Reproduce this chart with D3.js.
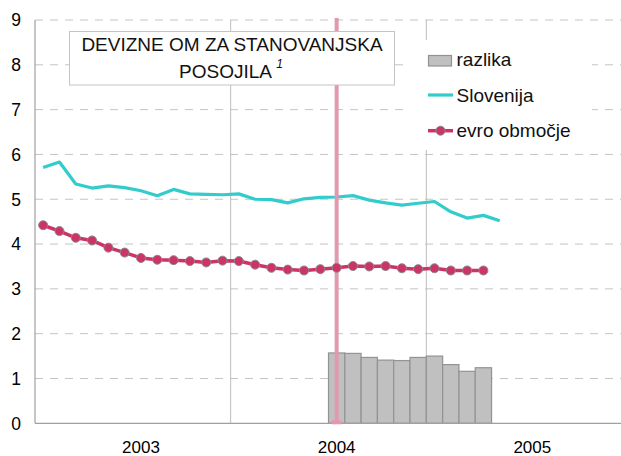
<!DOCTYPE html>
<html>
<head>
<meta charset="utf-8">
<script src="https://cdn.jsdelivr.net/npm/d3@7"></script>
<style>
  html, body { margin: 0; padding: 0; background: #fff; }
  svg { display: block; font-family: "Liberation Sans", Arial, sans-serif; }
</style>
</head>
<body>
<svg id="chart" width="621" height="456"></svg>
<script>
// months Jan 2003 .. Dec 2005
const years = ["2003", "2004", "2005"];
const monthNums = ["01","02","03","04","05","06","07","08","09","10","11","12"];
const months = years.flatMap(y => monthNums.map(m => `${y}-${m}`));

const yearLabels = ["2003", "2004", "2005"];
const yTicks = [0, 1, 2, 3, 4, 5, 6, 7, 8, 9];

// Slovenija, Jan 2003 .. May 2005
const slovenija = [5.71, 5.83, 5.34, 5.25, 5.30, 5.26, 5.19, 5.08, 5.22, 5.12,
                   5.11, 5.10, 5.12, 5.00, 4.99, 4.92, 5.01, 5.04, 5.05, 5.08,
                   4.98, 4.92, 4.87, 4.91, 4.95, 4.72, 4.58, 4.64, 4.52];
// evro obmocje, Jan 2003 .. Apr 2005
const evro = [4.42, 4.29, 4.14, 4.08, 3.92, 3.81, 3.69, 3.65, 3.64, 3.62,
              3.59, 3.63, 3.62, 3.54, 3.47, 3.43, 3.41, 3.44, 3.47, 3.51,
              3.50, 3.51, 3.46, 3.44, 3.46, 3.41, 3.41, 3.41];
// razlika, Jul 2004 .. Apr 2005
const razlikaStart = "2004-07";
const razlika = [1.57, 1.56, 1.47, 1.41, 1.40, 1.47, 1.50, 1.31, 1.16, 1.24];

const markerMonth = "2004-07";

const svg = d3.select("#chart");
const plotL = 35, plotR = 622, plotT = 20, plotB = 423.3;

const x = d3.scaleBand().domain(months).range([plotL, plotR]).padding(0);
const y = d3.scaleLinear().domain([0, 9]).range([plotB, plotT]);
const bw = x.bandwidth();
const cx = m => x(m) + bw / 2;

// horizontal dashed grid
svg.append("g")
    .selectAll("line")
    .data(yTicks.filter(d => d > 0))
    .join("line")
    .attr("x1", plotL).attr("x2", plotR)
    .attr("y1", d => y(d)).attr("y2", d => y(d))
    .attr("stroke", "#c4c4c4")
    .attr("stroke-width", 1)
    .attr("stroke-dasharray", "8,7");

// vertical year separators
svg.append("g")
    .selectAll("line")
    .data(["2004-01", "2005-01"])
    .join("line")
    .attr("x1", d => x(d)).attr("x2", d => x(d))
    .attr("y1", y(9)).attr("y2", y(0))
    .attr("stroke", "#bdbdbd")
    .attr("stroke-width", 1);

// legend background hides the grid
svg.append("rect")
    .attr("x", 407).attr("y", 40)
    .attr("width", 185).attr("height", 110)
    .attr("fill", "#fff");

// bars
const startIdx = months.indexOf(razlikaStart);
const barData = razlika.map((v, i) => ({ m: months[startIdx + i], v }));
svg.append("g")
    .selectAll("rect")
    .data(barData)
    .join("rect")
    .attr("x", d => x(d.m))
    .attr("y", d => y(d.v))
    .attr("width", bw)
    .attr("height", d => y(0) - y(d.v))
    .attr("fill", "#c0c0c0")
    .attr("stroke", "#939393")
    .attr("stroke-width", 1.2);

// axes lines
svg.append("line")
    .attr("x1", plotL).attr("x2", plotR)
    .attr("y1", y(0)).attr("y2", y(0))
    .attr("stroke", "#a0a0a0").attr("stroke-width", 1.2);
svg.append("line")
    .attr("x1", plotL).attr("x2", plotL)
    .attr("y1", y(9)).attr("y2", y(0))
    .attr("stroke", "#a0a0a0").attr("stroke-width", 1.2);

// Slovenija line
const line = d3.line().x(d => cx(d.m)).y(d => y(d.v));
const sloData = slovenija.map((v, i) => ({ m: months[i], v }));
svg.append("path")
    .datum(sloData)
    .attr("d", line)
    .attr("fill", "none")
    .attr("stroke", "#33cccc")
    .attr("stroke-width", 3.2)
    .attr("stroke-linejoin", "round");

// pink vertical marker
svg.append("line")
    .attr("x1", cx(markerMonth)).attr("x2", cx(markerMonth))
    .attr("y1", y(9) - 2).attr("y2", y(0))
    .attr("stroke", "#e099ad")
    .attr("stroke-width", 4);
svg.append("rect")
    .attr("x", cx(markerMonth) - 5).attr("y", y(0) - 3)
    .attr("width", 10).attr("height", 4)
    .attr("fill", "#e099ad");

// evro line with markers
const evroData = evro.map((v, i) => ({ m: months[i], v }));
svg.append("path")
    .datum(evroData)
    .attr("d", line)
    .attr("fill", "none")
    .attr("stroke", "#cc3366")
    .attr("stroke-width", 3.5)
    .attr("stroke-linejoin", "round");
svg.append("g")
    .selectAll("circle")
    .data(evroData)
    .join("circle")
    .attr("cx", d => cx(d.m))
    .attr("cy", d => y(d.v))
    .attr("r", 4.5)
    .attr("fill", "#cc3366")
    .attr("stroke", "#8a8a8a")
    .attr("stroke-width", 1);

// y tick labels
svg.append("g")
    .selectAll("text")
    .data(yTicks)
    .join("text")
    .attr("x", 21)
    .attr("y", d => y(d))
    .attr("dy", "0.36em")
    .attr("text-anchor", "end")
    .attr("font-size", 17.5)
    .attr("fill", "#000")
    .text(d => d);

// x year labels at July of each year
svg.append("g")
    .selectAll("text")
    .data(yearLabels)
    .join("text")
    .attr("x", d => cx(`${d}-07`))
    .attr("y", 452.5)
    .attr("text-anchor", "middle")
    .attr("font-size", 17)
    .attr("fill", "#000")
    .text(d => d);

// title box
svg.append("rect")
    .attr("x", 69.5).attr("y", 31.5)
    .attr("width", 325).attr("height", 53.5)
    .attr("fill", "#fff")
    .attr("stroke", "#c4c4c4")
    .attr("stroke-width", 1);
svg.append("text")
    .attr("x", 232).attr("y", 50.7)
    .attr("text-anchor", "middle")
    .attr("font-size", 19)
    .attr("fill", "#111")
    .text("DEVIZNE OM ZA STANOVANJSKA");
const t2 = svg.append("text")
    .attr("x", 231).attr("y", 78.3)
    .attr("text-anchor", "middle")
    .attr("font-size", 19)
    .attr("fill", "#111");
t2.append("tspan").text("POSOJILA ");
t2.append("tspan")
    .attr("font-size", 12)
    .attr("font-style", "italic")
    .attr("dy", -10)
    .text("1");

// legend
const lg = svg.append("g");
lg.append("rect")
    .attr("x", 428.5).attr("y", 55.5)
    .attr("width", 23).attr("height", 10.5)
    .attr("fill", "#c0c0c0")
    .attr("stroke", "#939393")
    .attr("stroke-width", 1.2);
lg.append("text").attr("x", 456.5).attr("y", 66)
    .attr("font-size", 19).attr("fill", "#111").text("razlika");

lg.append("line")
    .attr("x1", 428).attr("x2", 453).attr("y1", 95).attr("y2", 95)
    .attr("stroke", "#33cccc").attr("stroke-width", 3.2);
lg.append("text").attr("x", 456.5).attr("y", 101.7)
    .attr("font-size", 19).attr("fill", "#111").text("Slovenija");

lg.append("line")
    .attr("x1", 428).attr("x2", 453).attr("y1", 130.7).attr("y2", 130.7)
    .attr("stroke", "#cc3366").attr("stroke-width", 3.5);
lg.append("circle")
    .attr("cx", 440.5).attr("cy", 130.7).attr("r", 4.5)
    .attr("fill", "#cc3366").attr("stroke", "#8a8a8a").attr("stroke-width", 1);
lg.append("text").attr("x", 456.5).attr("y", 137.3)
    .attr("font-size", 19).attr("fill", "#111").text("evro območje");
</script>
</body>
</html>
